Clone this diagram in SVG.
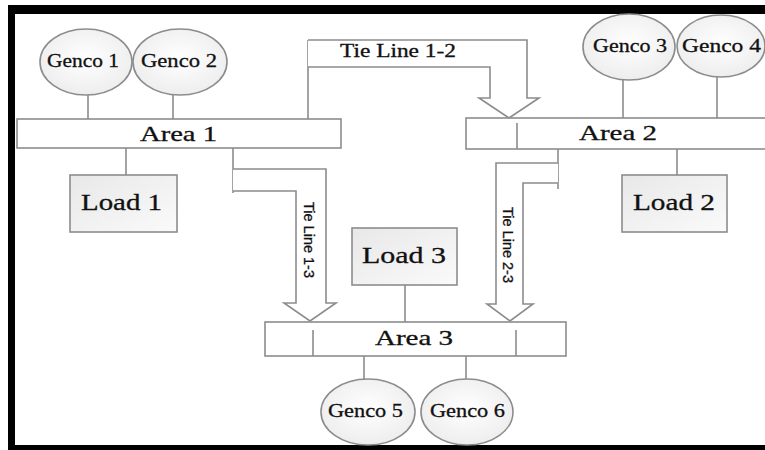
<svg xmlns="http://www.w3.org/2000/svg" width="765" height="450" viewBox="0 0 765 450">
<defs>
<radialGradient id="gc" cx="0.5" cy="0.45" r="0.6">
<stop offset="0" stop-color="#ffffff"/>
<stop offset="1" stop-color="#ececec"/>
</radialGradient>
<linearGradient id="lg" x1="0" y1="0" x2="1" y2="1">
<stop offset="0" stop-color="#e8e8e8"/>
<stop offset="1" stop-color="#fafafa"/>
</linearGradient>
<style>
.ln{fill:none;stroke:#8c8c8c;stroke-width:1.6}
.gen{fill:url(#gc);stroke:#8c8c8c;stroke-width:1.6}
.load{fill:url(#lg);stroke:#8c8c8c;stroke-width:1.6}
.area{fill:#ffffff;stroke:#8c8c8c;stroke-width:1.6}
.tarrow{fill:#ffffff;stroke:#8c8c8c;stroke-width:1.6;stroke-linejoin:miter}
.t{font-family:"Liberation Serif","Times New Roman",serif;fill:#111111;stroke:#111111;stroke-width:0.3}
.ts{font-family:"Liberation Sans",Arial,sans-serif;fill:#111111;stroke:#111111;stroke-width:0.3;font-size:14px}
</style>
</defs>
<rect x="0" y="0" width="765" height="450" fill="#ffffff"/>
<!-- frame -->
<rect x="8" y="5" width="757" height="9" fill="#000"/>
<rect x="8" y="5" width="7" height="445" fill="#000"/>
<rect x="8" y="445" width="757" height="5" fill="#000"/>

<g id="connectors">
<line class="ln" x1="88" y1="95" x2="88" y2="119"/>
<line class="ln" x1="173" y1="95" x2="173" y2="119"/>
<line class="ln" x1="126" y1="148" x2="126" y2="175"/>
<line class="ln" x1="623" y1="80" x2="623" y2="118"/>
<line class="ln" x1="717" y1="77" x2="717" y2="118"/>
<line class="ln" x1="677" y1="149" x2="677" y2="175"/>
<line class="ln" x1="405" y1="285" x2="405" y2="322"/>
<line class="ln" x1="364" y1="356" x2="364" y2="380"/>
<line class="ln" x1="466" y1="356" x2="466" y2="380"/>
</g>

<g id="tieline12">
<line class="ln" x1="308" y1="119" x2="308" y2="40"/>
<path class="tarrow" d="M308 40 H527 V98 H539 L509 118 L479 98 H490 V67 H308"/>
<text class="t" x="340" y="57" font-size="18" textLength="116" lengthAdjust="spacingAndGlyphs">Tie Line 1-2</text>
</g>

<g id="tieline13">
<line class="ln" x1="233" y1="148" x2="233" y2="193"/>
<path class="tarrow" d="M233 169 H326 V303 H336 L310 321 L284 303 H296 V191 H233"/>
<text class="ts" transform="translate(304,202) rotate(90)" textLength="76" lengthAdjust="spacingAndGlyphs">Tie Line 1-3</text>
</g>

<g id="tieline23">
<line class="ln" x1="558" y1="149" x2="558" y2="189"/>
<path class="tarrow" d="M558 163 H496 V304 H487 L510 321 L533 304 H523 V183 H558"/>
<text class="ts" transform="translate(503,207) rotate(90)" textLength="76" lengthAdjust="spacingAndGlyphs">Tie Line 2-3</text>
</g>

<g id="genco1">
<ellipse class="gen" cx="86" cy="62" rx="46" ry="33"/>
<text class="t" x="47" y="67" font-size="19" textLength="72" lengthAdjust="spacingAndGlyphs">Genco 1</text>
</g>
<g id="genco2">
<ellipse class="gen" cx="180" cy="62" rx="47" ry="33"/>
<text class="t" x="141" y="67" font-size="19" textLength="76" lengthAdjust="spacingAndGlyphs">Genco 2</text>
</g>
<g id="genco3">
<ellipse class="gen" cx="629" cy="47" rx="46" ry="33"/>
<text class="t" x="593" y="52" font-size="19" textLength="74" lengthAdjust="spacingAndGlyphs">Genco 3</text>
</g>
<g id="genco4">
<ellipse class="gen" cx="721" cy="46" rx="44" ry="31"/>
<text class="t" x="682" y="52" font-size="19" textLength="79" lengthAdjust="spacingAndGlyphs">Genco 4</text>
</g>
<g id="genco5">
<ellipse class="gen" cx="368" cy="412" rx="47" ry="33"/>
<text class="t" x="328" y="417" font-size="19" textLength="75" lengthAdjust="spacingAndGlyphs">Genco 5</text>
</g>
<g id="genco6">
<ellipse class="gen" cx="467" cy="412" rx="46" ry="33"/>
<text class="t" x="430" y="417" font-size="19" textLength="75" lengthAdjust="spacingAndGlyphs">Genco 6</text>
</g>

<g id="area1">
<rect class="area" x="17" y="119" width="324" height="29"/>
<text class="t" x="140" y="141" font-size="21" textLength="77" lengthAdjust="spacingAndGlyphs">Area 1</text>
</g>
<g id="area2">
<rect class="area" x="466" y="118" width="305" height="31"/>
<line class="ln" x1="517" y1="123" x2="517" y2="149"/>
<text class="t" x="579" y="140" font-size="21" textLength="78" lengthAdjust="spacingAndGlyphs">Area 2</text>
</g>
<g id="area3">
<rect class="area" x="265" y="322" width="301" height="34"/>
<line class="ln" x1="313" y1="330" x2="313" y2="356"/>
<line class="ln" x1="516" y1="330" x2="516" y2="356"/>
<text class="t" x="375" y="345" font-size="21" textLength="78" lengthAdjust="spacingAndGlyphs">Area 3</text>
</g>

<g id="load1">
<rect class="load" x="70" y="175" width="107" height="57"/>
<text class="t" x="81" y="210" font-size="23" textLength="81" lengthAdjust="spacingAndGlyphs">Load 1</text>
</g>
<g id="load2">
<rect class="load" x="622" y="175" width="105" height="57"/>
<text class="t" x="633" y="210" font-size="23" textLength="82" lengthAdjust="spacingAndGlyphs">Load 2</text>
</g>
<g id="load3">
<rect class="load" x="352" y="228" width="105" height="57"/>
<text class="t" x="362" y="263" font-size="23" textLength="84" lengthAdjust="spacingAndGlyphs">Load 3</text>
</g>
</svg>
